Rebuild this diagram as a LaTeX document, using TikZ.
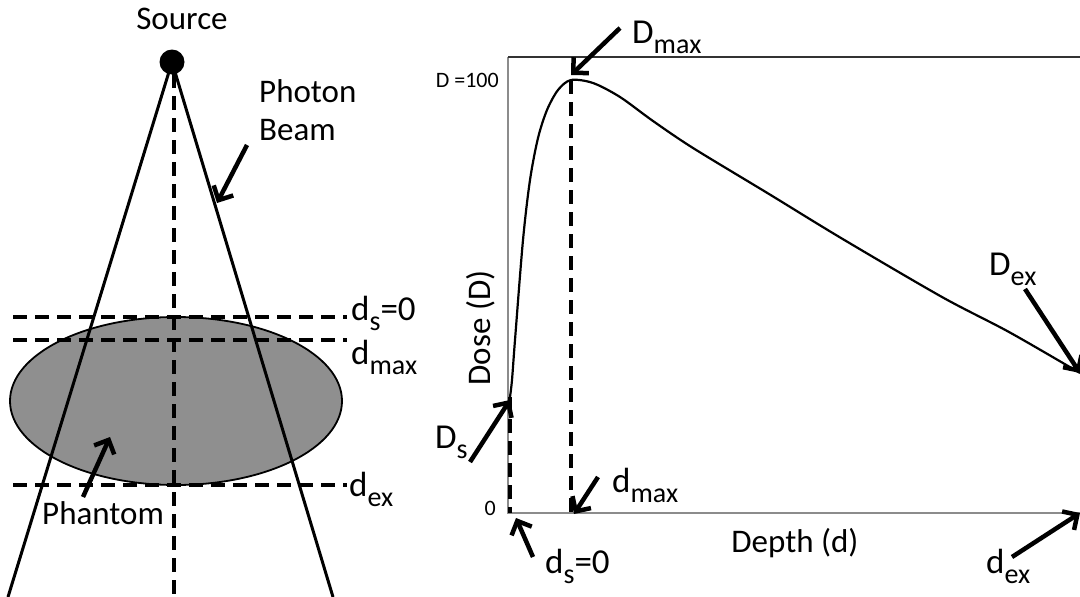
\documentclass[tikz,border=0pt]{standalone}
\usepackage{fontspec}
\setmainfont{Carlito}
\usetikzlibrary{arrows.meta,shapes.geometric}
\newcommand\lowsub[1]{\raisebox{-10pt}{\fontsize{28}{28}\selectfont #1}}
\tikzset{
  txt/.style={inner sep=0pt, font=\fontsize{33}{38}\selectfont},
  sym/.style={inner sep=0pt, font=\fontsize{35}{40}\selectfont},
  small/.style={inner sep=0pt, font=\fontsize{22}{26}\selectfont},
  beam/.style={line width=3pt},
  dashln/.style={line width=3.2pt, dash pattern=on 14pt off 8pt},
  pointer/.style={line width=4.5pt, -{Straight Barb[length=11pt,width=22pt,line width=4.5pt]}},
  axisln/.style={line width=1.8pt, draw=black!45},
}
\begin{document}
\begin{tikzpicture}[x=1pt,y=-1pt]
\useasboundingbox (0,0) rectangle (1080,597);
% ---------- left: source, beam, phantom ----------
\node[txt, anchor=base] (source) at (182,30) {Source};
\node[circle, fill=black, inner sep=0pt, minimum size=25pt] (src) at (172,62) {};
\node[ellipse, draw=black, line width=1.8pt, fill=black!44, inner sep=0pt,
      minimum width=332pt, minimum height=168pt] (phantom) at (176,401) {};
\coordinate (bl) at (8,597);
\coordinate (br) at (333,597);
\coordinate (cb) at (174,597);
\draw[beam] (src.center) -- (bl);
\draw[beam] (src.center) -- (br);
\draw[dashln] (174,74) -- (cb);
% horizontal depth lines
\coordinate (hs0) at (13,317); \coordinate (hs1) at (347,317);
\coordinate (hm0) at (13,340); \coordinate (hm1) at (347,340);
\coordinate (he0) at (13,485); \coordinate (he1) at (347,485);
\draw[dashln] (hs0) -- (hs1);
\draw[dashln] (hm0) -- (hm1);
\draw[dashln] (he0) -- (he1);
\node[sym, anchor=base west] (lds) at (351,320) {d\lowsub{s}=0};
\node[sym, anchor=base west] (ldm) at (351,364) {d\lowsub{max}};
\node[sym, anchor=base west] (lde) at (349,496) {d\lowsub{ex}};
% photon beam label
\node[txt, anchor=base west, align=left] (photon) at (259,140) {Photon\\Beam};
\coordinate (pbt) at (247,145); \coordinate (pbh) at (217,203);
\draw[pointer] (pbt) -- (pbh);
% phantom label
\node[txt, anchor=base west] (phlabel) at (42,524) {Phantom};
\coordinate (pht) at (83,497); \coordinate (phh) at (110,437);
\draw[pointer] (pht) -- (phh);
% ---------- right: dose curve ----------
\coordinate (o) at (508,513);
\coordinate (ytop) at (508,57);
\coordinate (tr) at (1080,57);
\coordinate (xr) at (1080,513);
\draw[axisln] (ytop) -- (o) -- (xr);
\draw[line width=1.8pt, black!80] (ytop) -- (tr);
\node[small, anchor=base east] (d100) at (499,87) {D =100};
\node[small, anchor=base east] (zero) at (496,515) {0};
\coordinate (ds) at (510,397);
\coordinate (pk) at (571,80);
\coordinate (dexp) at (1080,373);
\draw[line width=2.2pt] plot[smooth, tension=0.5] coordinates {
  (510,397) (512,380) (515,340) (523,240) (530,180) (538,138) (547,110)
  (558,90) (571,80)
  (593,83) (620,97) (653,121) (693,148) (769,194) (841,238) (942,297)
  (1009,332) (1080,373)};
\draw[dashln] (ds) -- (510,513);
\draw[dashln] (pk) -- (571,513);
\node[txt, anchor=base] (depth) at (795,552) {Depth (d)};
\node[txt, rotate=90, anchor=base] (dose) at (490,328) {Dose (D)};
% labels with arrows
\node[sym, anchor=base west] (lDmax) at (632,43) {D\lowsub{max}};
\coordinate (aDm0) at (620,28); \coordinate (aDm1) at (571,75);
\draw[pointer] (aDm0) -- (aDm1);
\node[sym, anchor=base west] (lDs) at (435,448) {D\lowsub{s}};
\coordinate (aDs0) at (470,462); \coordinate (aDs1) at (510,400);
\draw[pointer] (aDs0) -- (aDs1);
\node[sym, anchor=base west] (ldmax) at (612,492) {d\lowsub{max}};
\coordinate (adm0) at (598,477); \coordinate (adm1) at (574,514);
\draw[pointer] (adm0) -- (adm1);
\node[sym, anchor=base west] (lds0) at (545,573) {d\lowsub{s}=0};
\coordinate (ads0) at (533,557); \coordinate (ads1) at (516,518);
\draw[pointer] (ads0) -- (ads1);
\node[sym, anchor=base west] (lDex) at (989,275) {D\lowsub{ex}};
\coordinate (aDe0) at (1025,289); \coordinate (aDe1) at (1080,373);
\draw[pointer] (aDe0) -- (aDe1);
\node[sym, anchor=base west] (ldex) at (986,573) {d\lowsub{ex}};
\coordinate (ade0) at (1012,557); \coordinate (ade1) at (1080,513);
\draw[pointer] (ade0) -- (ade1);
\end{tikzpicture}
\end{document}
